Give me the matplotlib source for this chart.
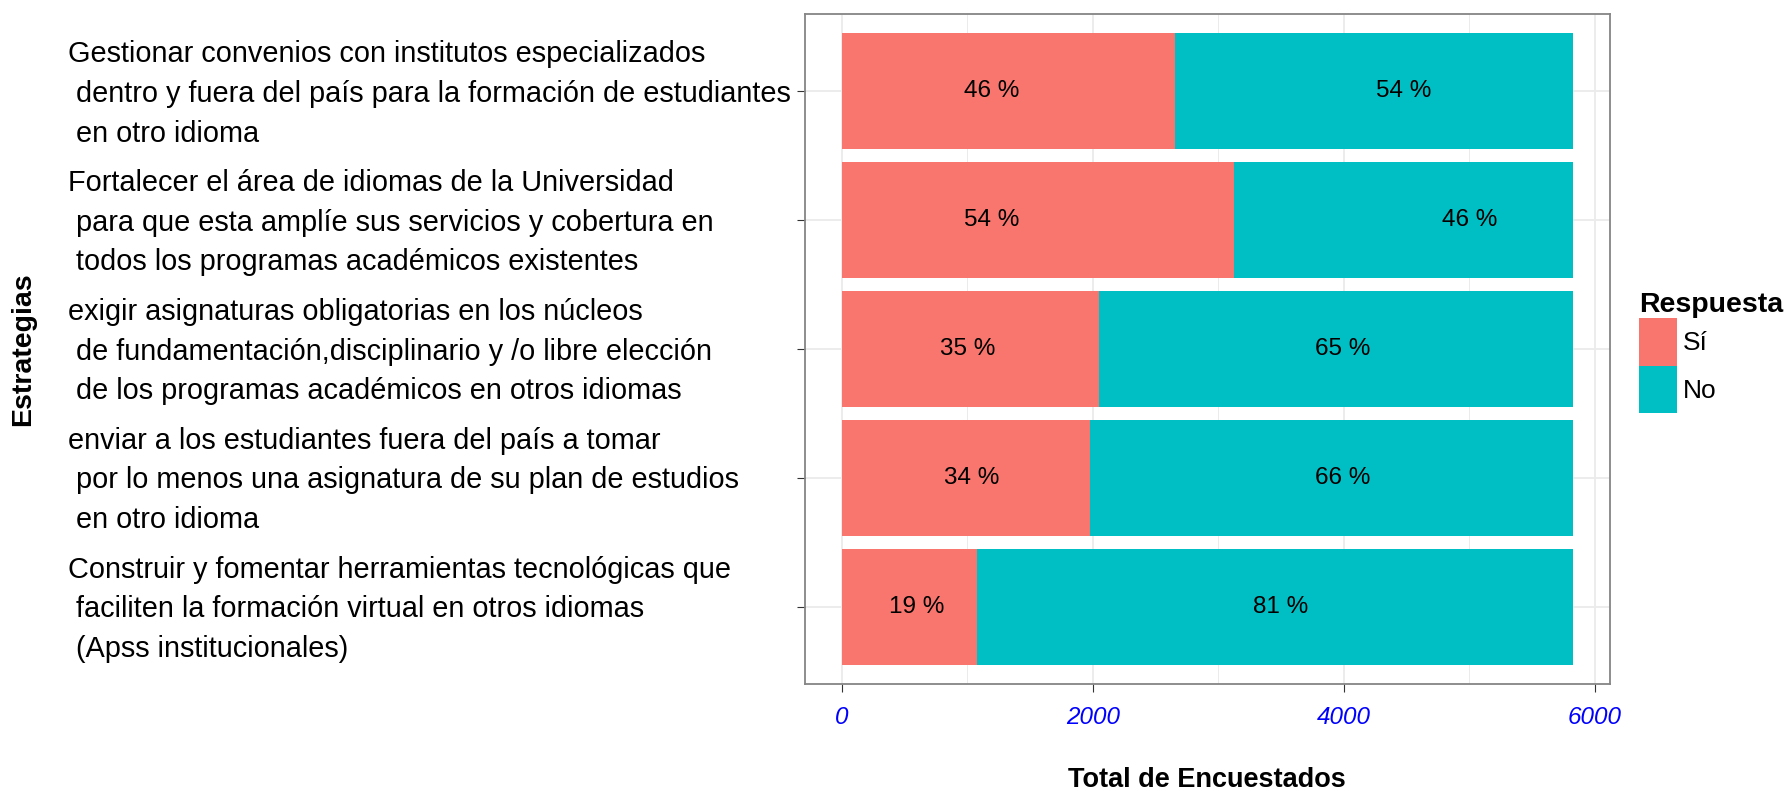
import matplotlib
matplotlib.use('Agg')
import matplotlib.pyplot as plt
import matplotlib.transforms as mtransforms
from matplotlib.patches import Patch

plt.rcParams['font.family'] = ['Liberation Sans', 'DejaVu Sans']

estrategias = [
    'Gestionar convenios con institutos especializados\n dentro y fuera del país para la formación de estudiantes\n en otro idioma',
    'Fortalecer el área de idiomas de la Universidad\n para que esta amplíe sus servicios y cobertura en\n todos los programas académicos existentes',
    'exigir asignaturas obligatorias en los núcleos\n de fundamentación,disciplinario y /o libre elección\n de los programas académicos en otros idiomas',
    'enviar a los estudiantes fuera del país a tomar\n por lo menos una asignatura de su plan de estudios\n en otro idioma',
    'Construir y fomentar herramientas tecnológicas que\n faciliten la formación virtual en otros idiomas\n (Apss institucionales)',
]
si = [2660, 3130, 2054, 1977, 1080]
no = [3170, 2700, 3776, 3853, 4750]
# where the percentage labels sit in the original (x, data units)
si_lab_x = [1193, 1193, 1004, 1036, 596]
no_lab_x = [4477, 5002, 3990, 3990, 3500]

c_si = '#F8766D'
c_no = '#00BFC4'

W, H = 1785, 791
fig = plt.figure(figsize=(W / 100, H / 100), dpi=100)
ax = fig.add_axes([805 / W, 1 - 684 / H, (1610 - 805) / W, (684 - 14) / H])

ypos = list(range(1, len(estrategias) + 1))
ax.barh(ypos, si, height=0.9, color=c_si, zorder=2)
ax.barh(ypos, no, left=si, height=0.9, color=c_no, zorder=2)

for i, y in enumerate(ypos):
    tot = si[i] + no[i]
    ax.text(si_lab_x[i], y, '%d %%' % round(100 * si[i] / tot), ha='center', va='center',
            fontsize=17.5, color='black', zorder=3)
    ax.text(no_lab_x[i], y, '%d %%' % round(100 * no[i] / tot), ha='center', va='center',
            fontsize=17.5, color='black', zorder=3)

tot_max = max(s + n for s, n in zip(si, no))
ax.set_xlim(-0.05 * tot_max, 1.05 * tot_max)
ax.set_ylim(len(estrategias) + 0.6, 0.4)

ax.set_xticks([0, 2000, 4000, 6000])
ax.set_xticks([1000, 3000, 5000], minor=True)
ax.set_yticks(ypos)
ax.set_yticklabels([''] * len(ypos))
ax.tick_params(axis='x', which='major', length=6, color='#333333', pad=10,
               labelsize=17.5, labelcolor='blue')
ax.tick_params(axis='x', which='minor', length=0)
ax.tick_params(axis='y', length=6, color='#333333')
for lab in ax.get_xticklabels():
    lab.set_fontstyle('italic')

ax.grid(True, which='major', color='#EBEBEB', lw=1.3, zorder=0)
ax.grid(True, which='minor', axis='x', color='#EBEBEB', lw=0.7, zorder=0)
ax.set_axisbelow(True)
for sp in ax.spines.values():
    sp.set_color('#858585')
    sp.set_linewidth(1.3)

# category labels, left aligned like the original
trans = mtransforms.blended_transform_factory(fig.transFigure, ax.transData)
for y, lab in zip(ypos, estrategias):
    ax.text(68 / W, y + 0.02, lab, transform=trans, ha='left', va='center',
            fontsize=20.8, linespacing=1.53, clip_on=False)

fig.text(1207 / W, 1 - 780 / H, 'Total de Encuestados', ha='center', va='center',
         fontsize=19.5, fontweight='bold')
fig.text(23 / W, 1 - 349 / H, 'Estrategias', ha='center', va='center', rotation=90,
         fontsize=20.5, fontweight='bold')

handles = [Patch(facecolor=c_si, edgecolor='none'), Patch(facecolor=c_no, edgecolor='none')]
leg = fig.legend(handles, ['Sí', 'No'], title='Respuesta', loc='upper left',
                 bbox_to_anchor=(1639 / W, 1 - 292 / H), frameon=False,
                 fontsize=19, title_fontproperties={'weight': 'bold', 'size': 20.5},
                 handlelength=1.45, handleheight=2.4, handletextpad=0.2,
                 labelspacing=0.0, borderpad=0, borderaxespad=0, alignment='left')

fig.savefig('out.png', dpi=100)
